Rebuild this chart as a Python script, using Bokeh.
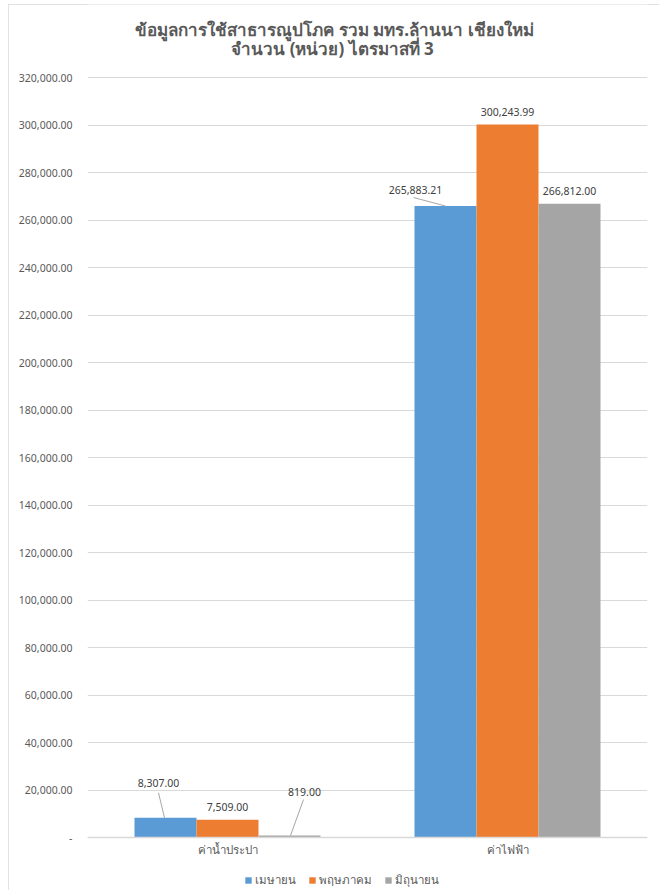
from bokeh.plotting import figure
from bokeh.models import (Range1d, FixedTicker, CustomJSTickFormatter,
                          Legend, LegendItem, ColumnDataSource)
from bokeh.core.properties import value
from bokeh.embed import file_html
from bokeh.resources import INLINE

# ---------------- data ----------------
categories = ["ค่าน้ำประปา", "ค่าไฟฟ้า"]
series = ["เมษายน", "พฤษภาคม", "มิถุนายน"]
april = [8307.00, 265883.21]
may = [7509.00, 300243.99]
june = [819.00, 266812.00]
y_ticks = list(range(0, 320001, 20000))
title_lines = ["ข้อมูลการใช้สาธารณูปโภค รวม มทร.ล้านนา เชียงใหม่",
               "จำนวน (หน่วย) ไตรมาสที่ 3"]

# ---------------- style / layout ----------------
colors = ["#5B9BD5", "#ED7D31", "#A5A5A5"]
FONT = "Noto Sans"
TXT = "#595959"
GRID = "#D9D9D9"
FIG_W, FIG_H = 651, 886
BORDER_L, BORDER_R = 79, 12
FRAME_W = FIG_W - BORDER_L - BORDER_R          # 560 px
ZERO_FROM_TOP = 833                             # px from canvas top to the zero line
PX_PER_20K = 47.5                               # 760 px per 320,000
X_MAX = len(categories)
PX_X = X_MAX / FRAME_W
PX_Y = 20000 / PX_PER_20K
Y_END = ZERO_FROM_TOP * PX_Y
Y_START = -(FIG_H - ZERO_FROM_TOP) * PX_Y
BAR_PX = 62
bar_w = BAR_PX * PX_X
offsets = [-BAR_PX * PX_X, 0.0, BAR_PX * PX_X]

# label displacement (px, right / up) from bar-top centre
label_shift = {(0, 0): (-7, 35), (2, 0): (15, 44), (0, 1): (-30, 16.5)}
DEFAULT_SHIFT = (0, 12.5)
leader_shift = {(0, 0): ((-7, 25), (-1, 0)),
                (2, 0): ((14, 36), (1, 0)),
                (0, 1): ((-32, 8.5), (0, 0))}

p = figure(width=FIG_W, height=FIG_H, output_backend="svg", toolbar_location=None,
           x_range=Range1d(0, X_MAX), y_range=Range1d(Y_START, Y_END),
           min_border_left=BORDER_L, min_border_right=BORDER_R,
           min_border_top=0, min_border_bottom=0)
p.styles = {"outline": "1px solid #D9D9D9", "outline-offset": "-1px",
            "margin-left": "8px", "margin-top": "4px"}
p.outline_line_color = None
p.background_fill_color = "white"
p.border_fill_color = "white"

all_series = [april, may, june]
renderers = []
lx, ly, ltxt = [], [], []
sx0, sy0, sx1, sy1 = [], [], [], []
for si, vals in enumerate(all_series):
    xs = [ci + 0.5 + offsets[si] for ci in range(len(categories))]
    src = ColumnDataSource(dict(x=xs, top=vals))
    r = p.vbar(x="x", top="top", width=bar_w, bottom=0, source=src,
               fill_color=colors[si], line_color=None)
    renderers.append(r)
    for ci, v in enumerate(vals):
        dx, dy = label_shift.get((si, ci), DEFAULT_SHIFT)
        lx.append(xs[ci] + dx * PX_X)
        ly.append(v + dy * PX_Y)
        ltxt.append(f"{v:,.2f}")
        if (si, ci) in leader_shift:
            (ax, ay), (bx, by) = leader_shift[(si, ci)]
            sx0.append(xs[ci] + ax * PX_X); sy0.append(v + ay * PX_Y)
            sx1.append(xs[ci] + bx * PX_X); sy1.append(v + by * PX_Y)

p.segment(x0=sx0, y0=sy0, x1=sx1, y1=sy1, line_color="#A6A6A6", line_width=1)
p.text(x=lx, y=ly, text=ltxt, text_align="center", text_baseline="middle",
       text_font=value(FONT), text_font_size="10.5px", text_color="#404040")

# title: two centred lines at the top of the canvas
title_cx = [247 * PX_X, 245 * PX_X]
title_cy = [Y_END - 25 * PX_Y, Y_END - 43.5 * PX_Y]
p.text(x=title_cx, y=title_cy, text=title_lines, text_align="center",
       text_baseline="middle", text_font=value(FONT), text_font_size="17px",
       text_font_style="bold", text_color=TXT)

# grid
p.xgrid.grid_line_color = None
p.ygrid.grid_line_color = GRID
p.ygrid.ticker = FixedTicker(ticks=y_ticks)

# y axis
p.yaxis.ticker = FixedTicker(ticks=y_ticks)
p.yaxis.formatter = CustomJSTickFormatter(code="""
    if (tick == 0) { return '-'; }
    return tick.toLocaleString('en-US', {minimumFractionDigits: 2, maximumFractionDigits: 2});
""")
p.yaxis.axis_line_color = None
p.yaxis.major_tick_line_color = None
p.yaxis.minor_tick_line_color = None
p.yaxis.major_label_standoff = 9
p.yaxis.major_label_text_font = FONT
p.yaxis.major_label_text_font_size = "10.5px"
p.yaxis.major_label_text_color = TXT

# x axis drawn on the zero line
p.xaxis.fixed_location = 0
p.xaxis.ticker = FixedTicker(ticks=[i + 0.5 for i in range(len(categories))])
p.xaxis.major_label_overrides = {i + 0.5: c for i, c in enumerate(categories)}
p.xaxis.axis_line_color = GRID
p.xaxis.axis_line_width = 1.5
p.xaxis.major_tick_line_color = None
p.xaxis.minor_tick_line_color = None
p.xaxis.major_label_standoff = -2
p.xaxis.major_label_text_font = FONT
p.xaxis.major_label_text_font_size = "11.5px"
p.xaxis.major_label_text_color = TXT

# legend inside the frame, near the bottom
legend = Legend(items=[LegendItem(label=s, renderers=[r]) for s, r in zip(series, renderers)],
                location=(157, 1), orientation="horizontal",
                glyph_width=8, glyph_height=8, label_standoff=3, spacing=12,
                padding=0, margin=0, border_line_color=None,
                background_fill_alpha=0,
                label_text_font=FONT, label_text_font_size="11.5px",
                label_text_color=TXT, label_height=12)
p.add_layout(legend)

open("out.html", "w").write(file_html(p, INLINE))
